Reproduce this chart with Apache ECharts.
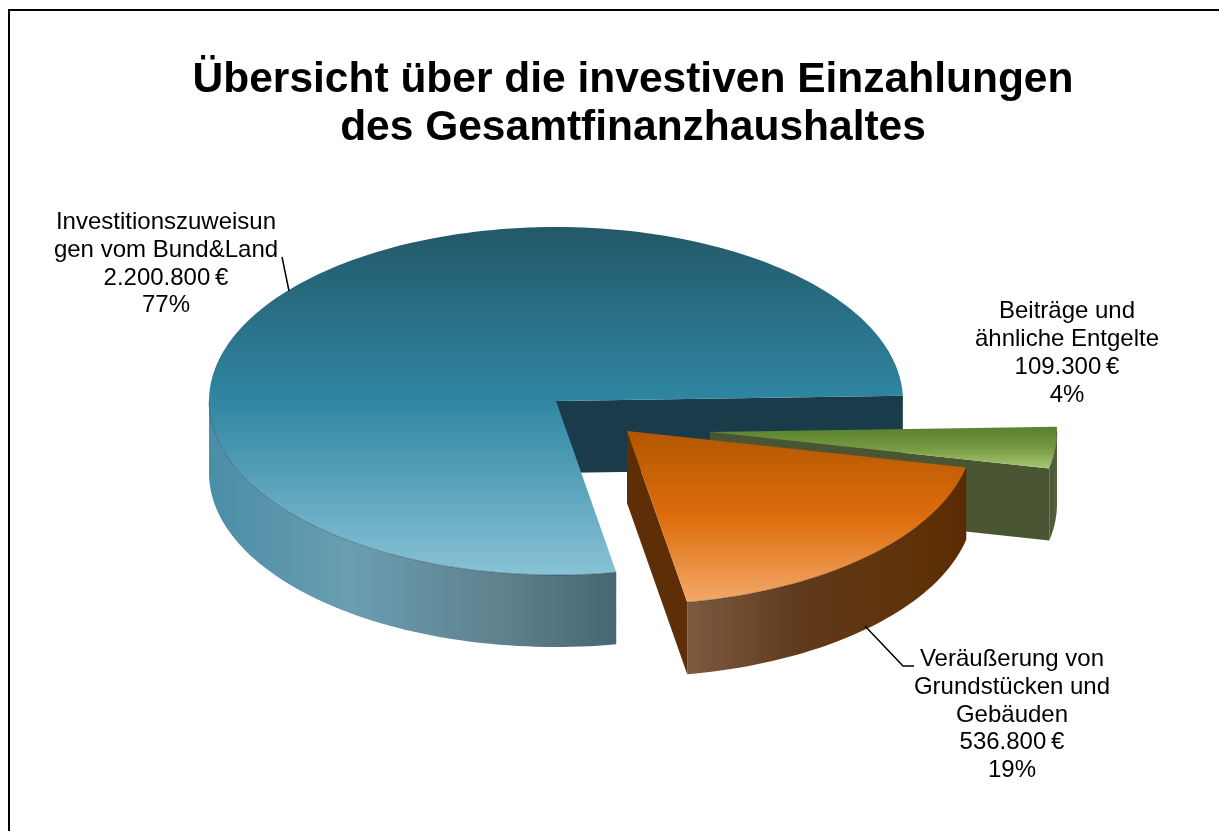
<!DOCTYPE html>
<html><head><meta charset="utf-8">
<style>html,body{margin:0;padding:0;background:#fff}#c{width:1219px;height:831px}</style>
<script src="https://cdn.jsdelivr.net/npm/echarts@6/dist/echarts.min.js"></script>
</head><body><div id="c"></div>
<script>
const categories = ["Investitionszuweisun\ngen vom Bund&Land", "Veräußerung von\nGrundstücken und\nGebäuden", "Beiträge und\nähnliche Entgelte"];
const values = [2200800, 536800, 109300];
const titleLines = "Übersicht über die investiven Einzahlungen\ndes Gesamtfinanzhaushaltes";

const FONT = '"Liberation Sans", Arial, sans-serif';
const G = {cx:556, cy:401, rx:347, ry:174, depth:72, startDeg:358.3};
const looks = [
 {off:[0,0],
  top:[[0,'#235868'],[0.5,'#2f86a2'],[1,'#88c2d6']], globalTop:true,
  side:[[0,'#4b8ea8'],[0.35,'#6a9db1'],[0.7,'#5f838f'],[1,'#466773']],
  wall:'#1a3b49', label:{x:166,y:264,lh:27.8}, leader:[[282,257],[289,291]]},
 {off:[71,30],
  top:[[0,'#b25700'],[0.5,'#de6d0c'],[1,'#f2a96a']],
  side:[[0,'#7c5a40'],[0.4,'#603a1c'],[0.8,'#5f3208'],[1,'#5a2b02']],
  wall:'#5e2e06', label:{x:1012,y:715,lh:27.6}, leader:[[865,626],[903,666],[914,666]]},
 {off:[154,31],
  top:[[0,'#5a8030'],[0.5,'#74993f'],[1,'#a8c878']],
  side:[[0,'#4c5934'],[1,'#546040']],
  wall:'#4a5534', label:{x:1067,y:353,lh:28}, leader:null}
];
const total = values.reduce((a,b)=>a+b,0);
// Slices run clockwise on screen from the right-hand edge: green, orange, main
const order = [2,1,0];
const spans = {};
let running = G.startDeg;
order.forEach(i=>{const sw=values[i]/total*360; spans[i]=[running,running+sw]; running+=sw;});

const rad = d=>d*Math.PI/180;
function rim(a0,a1,ox,oy,dy){
  const pts=[], n=Math.max(2,Math.ceil(Math.abs(a1-a0)/1.5));
  for(let k=0;k<=n;k++){const t=rad(a0+(a1-a0)*k/n);
    pts.push([G.cx+ox+G.rx*Math.cos(t), G.cy+oy+dy+G.ry*Math.sin(t)]);}
  return pts;
}
function grad(stops,horizontal,global,a,b){
  const g={type:'linear',x:0,y:0,x2:horizontal?1:0,y2:horizontal?0:1,
    colorStops:stops.map(s=>({offset:s[0],color:s[1]}))};
  if(global){g.global=true;g.x=0;g.x2=0;g.y=a;g.y2=b;}
  return g;
}
function renderItem(i,api){
  const L=looks[i], v=api.value(0);
  const sweep=v/total*360, a0=spans[i][0], a1=a0+sweep;
  const [ox,oy]=L.off, d=G.depth;
  const ax=G.cx+ox, ay=G.cy+oy;
  const kids=[];
  const poly=(pts,fill,z2)=>kids.push({type:'polygon',z2,shape:{points:pts},style:{fill}});
  const end=rim(a1,a1,ox,oy,0)[0];
  // cut wall along each slice's closing edge
  poly([[ax,ay],end,[end[0],end[1]+d],[ax,ay+d]],L.wall,i===1?3:1);
  // visible outer side: the portion of the rim in 0..180 degrees
  [[a0,a1],[a0-360,a1-360]].forEach(s=>{
    const lo=Math.max(s[0],0), hi=Math.min(s[1],180);
    if(hi>lo){
      poly(rim(lo,hi,ox,oy,0).concat(rim(hi,lo,ox,oy,d)),grad(L.side,true),2);
      kids.push({type:'polyline',z2:5,shape:{points:rim(lo,hi,ox,oy,0)},
        style:{stroke:'rgba(0,0,0,0.3)',lineWidth:1,fill:null}});
    }
  });
  // top face
  poly([[ax,ay]].concat(rim(a0,a1,ox,oy,0)),
    grad(L.top,false,L.globalTop,G.cy-G.ry,G.cy+G.ry),4);
  // label
  const pct=Math.round(v/total*100);
  const txt=categories[i]+'\n'+v.toLocaleString('de-DE')+'\u2009€\n'+pct+'%';
  kids.push({type:'text',z2:6,style:{text:txt,x:L.label.x,y:L.label.y,align:'center',verticalAlign:'middle',
    font:'24px '+FONT,fill:'#000',lineHeight:L.label.lh}});
  if(L.leader) kids.push({type:'polyline',z2:6,shape:{points:L.leader},style:{stroke:'#000',lineWidth:1.5,fill:null}});
  return {type:'group',children:kids};
}
const chart=echarts.init(document.getElementById('c'),null,{renderer:'canvas'});
chart.setOption({
  animation:false,
  backgroundColor:'#fff',
  title:{text:titleLines,left:628,top:51,textAlign:'center',
    textStyle:{fontFamily:FONT,fontWeight:'bold',fontSize:42.5,lineHeight:48,color:'#000'}},
  graphic:[
    {type:'rect',shape:{x:8,y:9,width:1211,height:2},style:{fill:'#000'}},
    {type:'rect',shape:{x:8,y:9,width:2,height:822},style:{fill:'#000'}}
  ],
  series:[0,2,1].map(i=>({
    type:'custom',coordinateSystem:'none',name:categories[i],silent:true,
    renderItem:(p,api)=>renderItem(i,api),
    data:[[values[i]]]
  }))
});
</script></body></html>
